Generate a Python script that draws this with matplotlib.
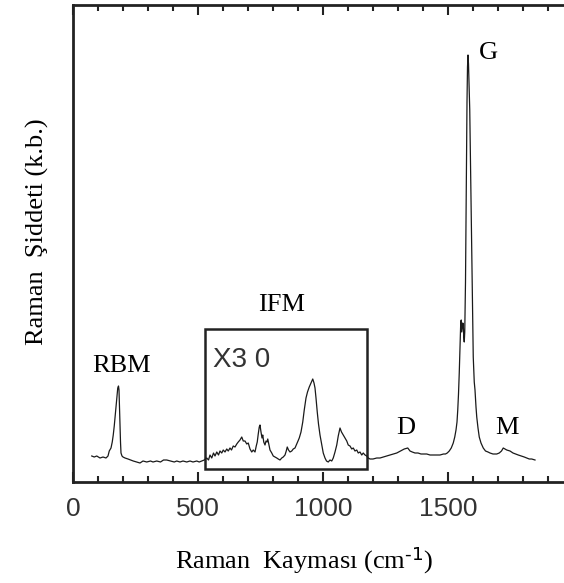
import matplotlib
matplotlib.use("Agg")
import matplotlib.pyplot as plt
from matplotlib.patches import Rectangle
from matplotlib.ticker import MultipleLocator

plt.rcParams["mathtext.default"] = "regular"

# Raman shift (cm^-1) and intensity (arbitrary units) of the nanotube spectrum
shift = [
    75, 85, 95, 108, 120, 132, 140, 145, 152, 157,
    161, 165, 169, 174, 179, 182, 184, 186, 188, 190,
    192, 196, 200, 208, 220, 230, 241, 255, 268, 280,
    295, 310, 320, 335, 350, 362, 375, 390, 405, 415,
    428, 440, 455, 468, 480, 495, 505, 515, 525, 535,
    542, 548, 555, 562, 568, 575, 582, 588, 595, 601,
    608, 615, 621, 628, 634, 641, 648, 655, 661, 668,
    675, 681, 688, 695, 701, 708, 715, 721, 728, 733,
    737, 741, 745, 748, 752, 756, 759, 763, 768, 772,
    776, 779, 783, 788, 795, 801, 808, 815, 821, 828,
    835, 841, 848, 853, 857, 862, 868, 875, 881, 888,
    895, 900, 905, 912, 919, 925, 932, 938, 945, 952,
    959, 964, 968, 972, 977, 982, 988, 995, 1001, 1008,
    1014, 1021, 1028, 1035, 1041, 1048, 1055, 1061, 1068, 1074,
    1081, 1088, 1095, 1101, 1108, 1115, 1121, 1128, 1135, 1141,
    1148, 1155, 1161, 1168, 1175, 1181, 1188, 1200, 1215, 1228,
    1241, 1255, 1268, 1282, 1295, 1310, 1325, 1339, 1348, 1357,
    1368, 1380, 1392, 1405, 1415, 1428, 1441, 1455, 1468, 1482,
    1490, 1497, 1505, 1513, 1521, 1527, 1532, 1536, 1539, 1542,
    1545, 1548, 1551, 1553, 1555, 1557, 1559, 1561, 1563, 1565,
    1567, 1570, 1573, 1576, 1578, 1580, 1582, 1584, 1587, 1590,
    1593, 1597, 1601, 1605, 1608, 1612, 1615, 1620, 1625, 1632,
    1641, 1650, 1660, 1668, 1680, 1695, 1705, 1714, 1721, 1728,
    1735, 1748, 1760, 1770, 1781, 1793, 1805, 1815, 1825, 1835,
    1848,
]
intensity = [
    26, 25, 26, 24, 25, 24, 26, 31, 34, 40,
    47, 56, 67, 80, 94, 96, 92, 75, 57, 40,
    29, 26, 25, 24, 23, 22, 21, 20, 19, 21,
    20, 21, 20, 21, 20, 22, 22, 21, 20, 21,
    20, 21, 20, 21, 20, 21, 20, 21, 22, 24,
    22, 27, 24, 29, 26, 30, 27, 31, 29, 32,
    30, 33, 31, 34, 32, 36, 35, 38, 40, 42,
    45, 41, 41, 38, 39, 33, 30, 32, 30, 36,
    40, 48, 55, 57, 50, 44, 47, 40, 37, 41,
    40, 43, 38, 32, 29, 26, 25, 24, 23, 22,
    24, 25, 27, 31, 35, 32, 30, 31, 33, 34,
    38, 41, 44, 50, 60, 72, 84, 90, 95, 99,
    103, 99, 94, 84, 70, 58, 47, 37, 29, 24,
    21, 20, 22, 21, 24, 30, 37, 46, 54, 50,
    47, 44, 41, 37, 36, 33, 34, 31, 32, 29,
    30, 27, 29, 27, 26, 24, 23, 23, 24, 24,
    25, 26, 27, 28, 29, 31, 33, 34, 31, 30,
    29, 29, 28, 28, 28, 27, 27, 27, 27, 28,
    28, 29, 31, 34, 39, 45, 52, 60, 72, 88,
    109, 135, 160, 162, 150, 155, 159, 158, 145, 140,
    150, 200, 290, 380, 415, 427, 418, 400, 372, 320,
    262, 192, 125, 100, 92, 75, 65, 54, 45, 39,
    34, 31, 30, 29, 28, 28, 29, 31, 34, 33,
    32, 31, 29, 28, 27, 26, 25, 24, 23, 23,
    22,
]

# Band labels and where they sit (shift, intensity)
band_labels = ["RBM", "IFM", "D", "G", "M"]
band_x = [195, 836, 1332, 1660, 1736]
band_y = [116, 177, 54, 429, 54]

# Magnified intermediate-frequency window
ifm_window = (528, 1176)
ifm_height = (13, 153)
ifm_scale = "X3 0"

xticks = [0, 500, 1000, 1500]

fig = plt.figure(figsize=(5.64, 5.83), dpi=100)
ax = fig.add_axes([73 / 564, 101 / 583, 500 / 564, 477 / 583])

ax.plot(shift, intensity, color="#1a1a1a", lw=0.9)

ax.set_xlim(0, 2000)
ax.set_ylim(0, 477)

for side in ("left", "top", "bottom", "right"):
    ax.spines[side].set_linewidth(2.0)
    ax.spines[side].set_color("#222222")

ax.set_xticks(xticks)
ax.set_xticklabels([str(t) for t in xticks], fontfamily="Liberation Sans",
                   fontsize=19, color="#333333")
ax.xaxis.set_minor_locator(MultipleLocator(100))
ax.tick_params(axis="x", which="both", direction="in", top=True, bottom=True,
               width=1.5, color="#222222", pad=11)
ax.tick_params(axis="x", which="major", length=7.5)
ax.tick_params(axis="x", which="minor", length=4.3)
ax.set_yticks([])

ax.add_patch(Rectangle((ifm_window[0], ifm_height[0]),
                       ifm_window[1] - ifm_window[0],
                       ifm_height[1] - ifm_height[0],
                       fill=False, lw=1.8, edgecolor="#222222"))

for lab, bx, by in zip(band_labels, band_x, band_y):
    ax.text(bx, by, lab, fontfamily="Liberation Serif", fontsize=19,
            ha="center", va="center", color="black")

ax.text(676, 122, ifm_scale, fontfamily="Liberation Sans", fontsize=20,
        ha="center", va="center", color="#333333")

fig.text(304 / 564, 1 - 560 / 583, r"Raman  Kayması (cm$^{\text{-1}}$)",
         fontfamily="Liberation Serif", fontsize=19, ha="center", va="center")
fig.text(37 / 564, 1 - 232 / 583, "Raman  Şiddeti (k.b.)",
         fontfamily="Liberation Serif", fontsize=19, ha="center", va="center",
         rotation=90)

fig.savefig("out.png", dpi=100)
